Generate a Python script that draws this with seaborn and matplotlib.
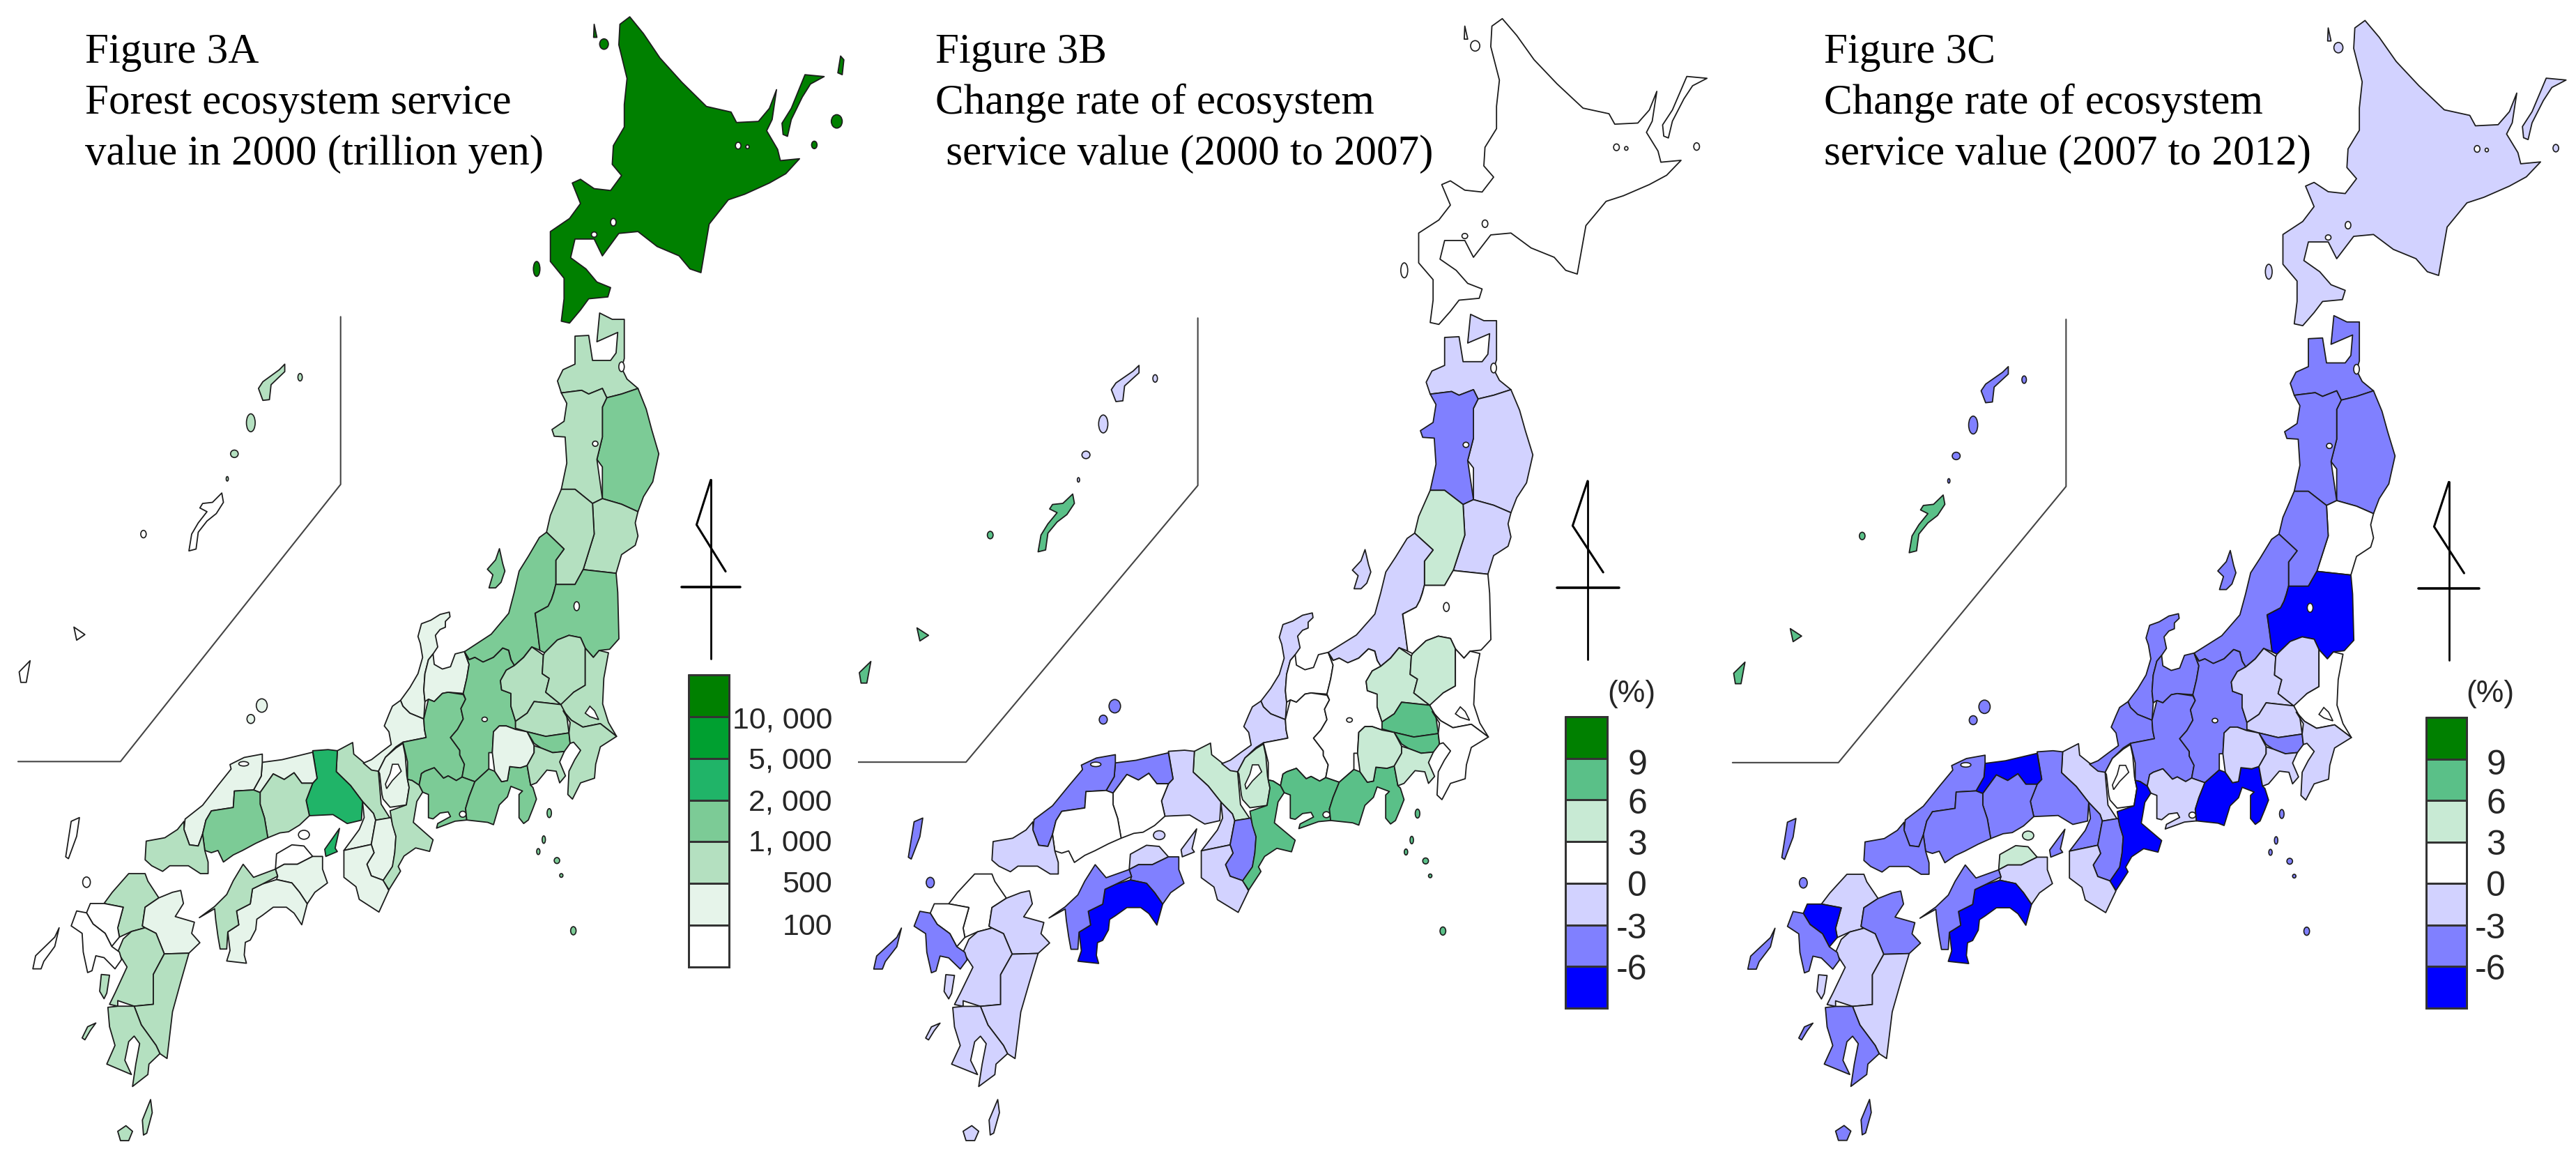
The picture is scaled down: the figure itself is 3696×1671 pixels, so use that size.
import numpy as np
import pandas as pd
import matplotlib
matplotlib.use("Agg")
import matplotlib.pyplot as plt
from matplotlib.colors import ListedColormap
from matplotlib.patches import Ellipse
import seaborn as sns

W, H = 3696, 1671
SCALE_U, SCALE_V = 1568 / 1232, 1568 / 840
V_OFFSET = 1549

# prefecture order for the class lists below
PREFS = ["Hokkaido", "Aomori", "Iwate", "Akita", "Miyagi", "Yamagata", "Fukushima", "Niigata",
         "Ibaraki", "Tochigi", "Gunma", "Saitama", "Tokyo", "Chiba", "Kanagawa", "Yamanashi",
         "Toyama", "Ishikawa", "Fukui", "Nagano", "Gifu", "Shizuoka", "Aichi", "Mie", "Shiga",
         "Kyoto", "Osaka", "Nara", "Wakayama", "Hyogo", "Tottori", "Shimane", "Okayama",
         "Hiroshima", "Yamaguchi", "Tokushima", "Kagawa", "Ehime", "Kochi", "Fukuoka", "Saga",
         "Nagasaki", "Kumamoto", "Oita", "Miyazaki", "Kagoshima", "Okinawa"]

CLASS_A = [6, 2, 3, 2, 2, 2, 3, 3, 2, 2, 2, 2, 3, 2, 2, 1, 1, 1, 1, 3, 3, 3, 3, 2, 1,
           2, 1, 1, 1, 4, 1, 1, 2, 3, 2, 1, 0, 2, 1, 2, 0, 0, 2, 1, 2, 2, 0]
CLASS_B = [3, 2, 2, 1, 2, 4, 3, 2, 3, 4, 4, 5, 5, 3, 4, 4, 3, 2, 2, 3, 3, 5, 5, 5, 4,
           4, 2, 1, 2, 2, 1, 1, 3, 3, 2, 1, 2, 1, 0, 3, 3, 1, 2, 2, 2, 2, 5]
CLASS_C = [2, 1, 1, 1, 3, 1, 0, 1, 3, 2, 2, 2, 1, 2, 2, 2, 1, 1, 1, 1, 1, 0, 2, 0, 3,
           2, 1, 1, 2, 1, 0, 1, 1, 1, 1, 2, 4, 1, 0, 2, 0, 1, 2, 1, 2, 1, 5]

COLORS_A = ["#ffffff", "#e6f4ea", "#b4e0c0", "#7ccb96", "#20b468", "#00a030", "#008000"]
COLORS_BC = ["#0000ff", "#8080ff", "#d2d2ff", "#ffffff", "#c8ead4", "#5ac088", "#008000"]

LABELS_A = ["10, 000", "5, 000", "2, 000", "1, 000", "500", "100"]
LABELS_BC = ["9", "6", "3", "0", "-3", "-6"]

TITLES = [["Figure 3A", "Forest ecosystem service", "value in 2000 (trillion yen)"],
          ["Figure 3B", "Change rate of ecosystem", " service value (2000 to 2007)"],
          ["Figure 3C", "Change rate of ecosystem", "service value (2007 to 2012)"]]

# shapes
NORTH = {
    "Hokkaido": [[(1150, 45), (1175, 90), (1205, 155), (1245, 220), (1290, 285), (1335, 300), (1345, 328), (1385, 325),
                  (1405, 290), (1418, 240), (1410, 320), (1400, 350), (1420, 400), (1425, 430), (1460, 425), (1435, 465),
                  (1405, 490), (1360, 520), (1330, 535), (1295, 600), (1280, 730), (1260, 720), (1240, 685), (1200, 660),
                  (1165, 620), (1130, 625), (1100, 685), (1085, 640), (1050, 640), (1042, 690), (1070, 720), (1090, 755),
                  (1115, 770), (1110, 795), (1075, 800), (1060, 830), (1040, 865), (1025, 860), (1030, 800), (1030, 745),
                  (1005, 700), (1005, 620), (1040, 585), (1060, 545), (1045, 490), (1060, 480), (1085, 505), (1115, 510),
                  (1135, 470), (1118, 440), (1120, 390), (1140, 340), (1140, 280), (1145, 210), (1130, 120), (1132, 65)],
                 [(1430, 360), (1428, 330), (1445, 290), (1470, 200), (1505, 205), (1480, 225), (1465, 260), (1445, 320), (1438, 365)],
                 [(1535, 150), (1541, 160), (1538, 200), (1530, 195)],
                 [(1085, 65), (1090, 100), (1084, 100)]],
    "Aomori": [[(1095, 838), (1118, 855), (1140, 855), (1140, 960), (1135, 985), (1145, 1015), (1165, 1040), (1135, 1055),
                (1108, 1065), (1100, 1040), (1075, 1055), (1062, 1045), (1025, 1052), (1018, 1020), (1028, 990), (1050, 975),
                (1050, 900), (1075, 898), (1082, 965), (1115, 965), (1125, 945), (1128, 890), (1090, 915)]],
    "Iwate": [[(1165, 1040), (1180, 1095), (1190, 1150), (1203, 1215), (1192, 1290), (1175, 1330), (1165, 1370), (1135, 1350),
               (1100, 1335), (1100, 1250), (1090, 1230), (1100, 1170), (1100, 1090), (1108, 1065), (1135, 1055)]],
    "Akita": [[(1025, 1052), (1062, 1045), (1075, 1055), (1100, 1040), (1108, 1065), (1100, 1090), (1100, 1170), (1090, 1230),
               (1100, 1335), (1082, 1348), (1050, 1310), (1025, 1310), (1035, 1240), (1032, 1170), (1012, 1168), (1008, 1150),
               (1030, 1128), (1035, 1080)]],
    "Miyagi": [[(1082, 1348), (1100, 1335), (1135, 1350), (1165, 1370), (1160, 1400), (1165, 1435), (1160, 1460), (1135, 1485),
                (1125, 1535), (1065, 1525), (1085, 1430)]],
    "Yamagata": [[(1025, 1310), (1050, 1310), (1082, 1348), (1085, 1430), (1065, 1525), (1050, 1565), (1015, 1565), (1015, 1500),
                  (1030, 1470), (998, 1425), (1005, 1380)]],
    "Kagoshima": [[(520, 975), (520, 995), (495, 1030), (492, 1070), (480, 1072), (472, 1040), (480, 1022), (510, 990)]],
    "Okinawa": [[(405, 1320), (408, 1345), (395, 1375), (378, 1395), (362, 1425), (358, 1470), (345, 1475), (350, 1430),
                 (362, 1400), (378, 1370), (365, 1360), (370, 1348), (388, 1345)]],
}

# shapes
SOUTH = {
    "Niigata": [[(998, -124), (1030, -79), (1015, -49), (1015, 16), (1011, 37), (1007, 56), (1001, 74), (977, 93), (982, 143),
                 (986, 192), (971, 183), (956, 211), (939, 233), (933, 217), (929, 192), (918, 186), (901, 211), (882, 224),
                 (867, 211), (857, 217), (848, 196), (897, 149), (929, 93), (939, 37), (948, -20), (965, -60), (985, -110)],
                [(912, -80), (918, -40), (922, -20), (915, 10), (905, 25), (893, 25), (900, -10), (890, -25), (905, -50)]],
    "Kyoto": [[(616, 461), (644, 439), (646, 470), (664, 492), (691, 516), (696, 604), (712, 641), (686, 647), (682, 629),
               (662, 597), (640, 554), (614, 517)]],
    "Osaka": [[(662, 597), (682, 629), (686, 647), (678, 712), (628, 728), (656, 672), (665, 640)]],
    "Nara": [[(686, 647), (714, 640), (723, 690), (721, 734), (717, 771), (700, 808), (678, 796), (670, 765), (683, 734),
              (678, 712)]],
    "Wakayama": [[(628, 728), (678, 712), (683, 734), (670, 765), (678, 796), (700, 808), (710, 835), (692, 893), (656, 859),
                  (650, 825), (628, 800)]],
    "Hyogo": [[(571, 461), (599, 458), (616, 461), (614, 517), (640, 554), (662, 597), (660, 647), (634, 656), (608, 632),
               (565, 635), (559, 594), (571, 548), (579, 535)],
              [(620, 669), (612, 722), (616, 731), (595, 744), (593, 725)]],
    "Tottori": [[(479, 492), (515, 485), (571, 465), (579, 535), (571, 548), (551, 548), (537, 520), (519, 538), (499, 523),
                 (475, 573), (463, 566), (477, 529)]],
    "Shimane": [[(420, 498), (446, 479), (479, 470), (479, 492), (477, 529), (463, 566), (428, 569), (426, 613), (386, 622),
                 (376, 647), (370, 684), (362, 716), (346, 713), (336, 672), (338, 644), (370, 607), (398, 554), (422, 510)]],
    "Okayama": [[(475, 573), (499, 523), (519, 538), (537, 520), (551, 548), (571, 548), (559, 594), (565, 635), (547, 660),
                 (527, 678), (511, 681), (489, 694), (483, 641), (475, 604)]],
    "Hiroshima": [[(386, 622), (426, 613), (428, 569), (463, 566), (475, 573), (475, 604), (483, 641), (489, 694), (467, 709),
                   (443, 728), (426, 740), (408, 759), (398, 728), (386, 734), (374, 728), (370, 684), (376, 647)]],
    "Yamaguchi": [[(267, 703), (301, 694), (324, 672), (336, 650), (336, 672), (346, 713), (362, 716), (370, 684), (374, 728),
                   (380, 759), (380, 790), (366, 790), (344, 769), (310, 769), (297, 784), (277, 769), (265, 753)]],
    "Kagawa": [[(505, 737), (533, 713), (555, 716), (571, 744), (543, 765), (519, 765), (503, 778)]],
    "Tokushima": [[(507, 797), (503, 778), (519, 765), (543, 765), (571, 744), (589, 744), (589, 778), (598, 815), (575, 840),
                   (561, 871), (547, 840), (533, 815), (505, 806)]],
    "Kochi": [[(505, 806), (533, 815), (547, 840), (561, 871), (551, 927), (537, 896), (523, 880), (499, 880), (479, 902),
               (469, 912), (467, 940), (457, 968), (448, 974), (446, 1008), (450, 1030), (414, 1024), (420, 996), (416, 946),
               (436, 927), (432, 890), (457, 871), (461, 831), (479, 818)]],
    "Ehime": [[(444, 765), (463, 800), (503, 778), (507, 797), (479, 818), (461, 831), (457, 871), (432, 890), (436, 927),
               (416, 946), (414, 992), (402, 992), (398, 958), (394, 915), (392, 884), (364, 908), (392, 878), (414, 846),
               (426, 809)]],
    "Fukuoka": [[(235, 790), (265, 790), (270, 810), (290, 855), (265, 880), (260, 930), (265, 935), (240, 945), (218, 960),
                 (215, 935), (225, 880), (190, 870), (205, 840)]],
    "Oita": [[(290, 855), (315, 840), (330, 835), (335, 870), (320, 905), (355, 920), (350, 950), (365, 975), (345, 1003),
              (300, 1005), (285, 950), (265, 935), (260, 930), (265, 880)]],
    "Kumamoto": [[(240, 945), (265, 935), (285, 950), (300, 1005), (280, 1060), (280, 1140), (245, 1145), (215, 1130), (215, 1145),
                  (200, 1140), (210, 1110), (232, 1040), (215, 1000), (225, 965)],
                 [(185, 1060), (200, 1062), (195, 1110), (190, 1125), (182, 1105)]],
    "Miyazaki": [[(300, 1005), (345, 1003), (330, 1080), (315, 1160), (305, 1285), (292, 1272), (285, 1250), (258, 1195),
                  (245, 1145), (280, 1140), (280, 1060)]],
    "Kagoshima": [[(197, 1148), (215, 1145), (245, 1145), (258, 1195), (285, 1250), (292, 1272), (272, 1300), (270, 1328),
                   (242, 1360), (248, 1300), (255, 1245), (245, 1225), (235, 1240), (228, 1290), (240, 1328), (195, 1300),
                   (210, 1250), (200, 1200)],
                  [(215, 1480), (230, 1465), (242, 1480), (235, 1505), (220, 1505)],
                  [(262, 1490), (260, 1450), (275, 1395), (278, 1430), (268, 1485)],
                  [(175, 1190), (165, 1210), (155, 1235), (150, 1230), (160, 1200)]],
    "Saga": [[(165, 870), (190, 870), (225, 880), (215, 935), (218, 960), (204, 985), (192, 950), (170, 925), (158, 895)]],
    "Nagasaki": [[(130, 930), (140, 890), (158, 895), (170, 925), (192, 950), (204, 985), (218, 1000), (222, 1020), (210, 1045),
                  (190, 1015), (175, 1010), (168, 1050), (160, 1055), (152, 1000), (150, 950)],
                 [(60, 1045), (65, 1010), (100, 960), (108, 935), (100, 985), (80, 1025), (75, 1045)],
                 [(120, 745), (130, 650), (145, 640), (140, 690), (125, 750)]],
    "Okinawa": [[(135, 130), (155, 150), (140, 165)],
                [(35, 250), (55, 220), (48, 278), (38, 278)]],
}

CENTRAL = {
    "Fukushima": [[(1011, -98), (1153, -82), (1160, 0), (1165, 200), (1125, 245), (1080, 250), (1055, 280), (1020, 240), (1000, 195),
                   (950, 185), (900, 205), (845, 260), (825, 250), (815, 170), (805, 90), (860, 60), (875, 30), (885, 0),
                   (893, -34), (976, -34)]],
    "Ishikawa": [[(395, 95), (435, 85), (438, 105), (418, 125), (418, 150), (395, 160), (375, 185), (385, 235), (365, 265),
                  (345, 290), (330, 350), (325, 420), (330, 470), (325, 545), (265, 520), (235, 490), (225, 465), (265, 410),
                  (300, 350), (320, 280), (310, 220), (300, 190), (315, 135), (355, 120)]],
    "Toyama": [[(365, 265), (370, 310), (405, 330), (440, 320), (460, 265), (500, 255), (520, 310), (510, 370), (495, 435),
                (430, 430), (405, 435), (370, 470), (345, 460), (330, 470), (325, 420), (330, 350), (345, 290)]],
    "Fukui": [[(225, 465), (235, 490), (265, 520), (325, 545), (328, 590), (335, 625), (235, 645), (205, 665), (160, 710),
               (130, 770), (100, 765), (65, 735), (100, 720), (145, 685), (185, 655), (175, 600), (155, 575), (175, 525), (190, 490)]],
    "Shiga": [[(205, 670), (235, 650), (245, 700), (252, 790), (262, 840), (250, 915), (180, 925), (150, 890), (145, 870),
               (135, 780), (130, 770), (160, 710)]],
    "Gifu": [[(235, 645), (335, 625), (328, 590), (325, 545), (345, 460), (370, 470), (405, 435), (430, 430), (495, 440), (505, 460),
              (485, 500), (495, 545), (470, 590), (440, 625), (480, 680), (480, 700), (500, 740), (490, 795), (465, 810), (430, 790),
              (410, 800), (370, 755), (330, 770), (315, 780), (305, 830), (275, 810), (255, 805), (255, 730)]],
    "Nagano": [[(500, 255), (520, 290), (545, 280), (580, 300), (625, 280), (665, 240), (690, 250), (700, 290), (715, 315), (680, 335),
                (655, 380), (660, 420), (700, 435), (700, 490), (720, 555), (720, 590), (680, 575), (650, 575), (625, 600), (620, 690),
                (605, 690), (605, 760), (545, 815), (490, 795), (500, 740), (480, 700), (480, 680), (440, 625), (470, 590), (495, 545),
                (485, 500), (505, 460), (495, 435), (510, 370), (520, 310)]],
    "Aichi": [[(315, 780), (330, 770), (370, 755), (410, 800), (430, 790), (465, 810), (490, 795), (545, 815), (520, 880), (505, 930),
               (510, 980), (460, 985), (380, 1015), (385, 995), (440, 965), (430, 945), (395, 950), (365, 975), (345, 970), (345, 870),
               (320, 860), (305, 830)]],
    "Shizuoka": [[(545, 815), (605, 760), (630, 770), (660, 815), (685, 810), (695, 750), (740, 755), (770, 745), (785, 830), (795, 840),
                  (810, 890), (795, 930), (775, 980), (755, 995), (735, 970), (735, 870), (750, 855), (700, 835), (685, 880), (650, 915),
                  (625, 1000), (600, 990), (510, 980), (505, 930), (520, 880)]],
    "Yamanashi": [[(625, 600), (650, 575), (680, 575), (720, 590), (770, 600), (800, 660), (800, 690), (770, 745), (740, 755), (695, 750),
                   (685, 810), (660, 815), (630, 770), (620, 690)]],
    "Gunma": [[(790, 235), (840, 270), (835, 350), (865, 370), (850, 430), (915, 483), (800, 470), (770, 520), (720, 555), (700, 490),
               (700, 435), (660, 420), (655, 380), (680, 335), (715, 315), (755, 280)]],
    "Tochigi": [[(845, 260), (900, 205), (950, 185), (1000, 195), (1020, 240), (1020, 320), (1020, 400), (970, 430), (925, 480), (915, 483),
                 (850, 430), (865, 370), (835, 350), (840, 270)]],
    "Ibaraki": [[(1020, 240), (1055, 280), (1080, 250), (1120, 260), (1100, 370), (1095, 480), (1120, 560), (1155, 620), (1085, 565),
                 (1010, 580), (960, 550), (925, 510), (915, 483), (970, 430), (1020, 400), (1020, 320)]],
    "Saitama": [[(800, 470), (915, 483), (940, 530), (950, 605), (850, 620), (770, 600), (720, 585), (720, 555), (770, 520)]],
    "Tokyo": [[(770, 600), (850, 620), (950, 605), (955, 650), (930, 685), (880, 690), (830, 670), (800, 650)]],
    "Kanagawa": [[(800, 660), (830, 670), (880, 690), (930, 685), (910, 730), (935, 790), (910, 820), (895, 770), (855, 765), (810, 820),
                  (785, 830), (770, 745), (800, 690)]],
    "Chiba": [[(925, 510), (960, 550), (1010, 580), (1085, 565), (1155, 620), (1085, 665), (1065, 740), (1060, 800), (1000, 820), (965, 890),
               (945, 870), (950, 770), (975, 720), (1000, 680), (970, 645), (955, 650), (950, 605), (955, 560)]],
    "Mie": [[(255, 805), (275, 810), (305, 830), (320, 860), (295, 900), (280, 990), (365, 1065), (350, 1115), (290, 1100), (240, 1135),
             (215, 1180), (225, 1200), (175, 1280), (150, 1240), (190, 1180), (200, 1120), (205, 1050), (190, 1000), (180, 940), (250, 915),
             (262, 840)]],
}

# white water drawn over the land, same frame as CENTRAL
WATER_CENTRAL = [[(190, 740), (215, 740), (228, 770), (190, 810), (165, 845), (160, 825), (180, 780)],
                 [(1040, 490), (1060, 510), (1078, 548), (1040, 535), (1020, 520)]]

# tiny islands: prefecture, u, v (north crop frame), radius u, radius v
ISLANDS = [("Hokkaido", 1103, 118, 8, 14), ("Hokkaido", 1528, 325, 10, 18), ("Hokkaido", 1487, 388, 5, 10), ("Hokkaido", 980, 720, 6, 20),
           ("Kagoshima", 548, 1010, 4, 10), ("Kagoshima", 458, 1132, 8, 24), ("Kagoshima", 428, 1215, 7, 10),
           ("Kagoshima", 415, 1282, 2, 6), ("Okinawa", 262, 1430, 5, 10), ("Shimane", 478, 1889, 10, 18), ("Shimane", 458, 1925, 7, 12),
           ("Nagasaki", 158, 2362, 7, 14), ("Kagawa", 555, 2235, 10, 12), ("Tokyo", 1003, 2177, 4, 12), ("Tokyo", 993, 2248, 3, 10),
           ("Tokyo", 983, 2280, 3, 8), ("Tokyo", 1017, 2304, 5, 8), ("Tokyo", 1025, 2344, 3, 5), ("Tokyo", 1047, 2492, 5, 11)]

# lakes stay white
LAKES = [(1120, 595, 5, 10), (1085, 628, 5, 7), (1348, 390, 5, 9), (1365, 393, 3, 5), (1135, 982, 5, 13), (1087, 1188, 5, 7),
         (1053, 1623, 5, 12), (885, 1926, 5, 6), (845, 2180, 6, 8), (445, 2045, 9, 6)]

INSET_U = [622, 622, 220, 33]
INSET_V = [848, 1297, 2039, 2039]
ARROW_U = [1298, 1272, 1325]
ARROW_V = [1285, 1405, 1530]
POLE_U = [1298, 1298]
POLE_V = [1285, 1764]
BAR_U = [1245, 1352]
BAR_V = [1571, 1571]

# panel map: x_px = ox + sx * u / SCALE_U, y_px = (vs * v + vo) / SCALE_V
PANELS = [dict(ox=0, sx=1.0, vs=1.0, vo=0, umin=20, umax=1545),
          dict(ox=1204, sx=1.053, vs=0.9983, vo=5, umin=33, umax=1506),
          dict(ox=2459, sx=1.034, vs=0.9965, vo=10, umin=20, umax=1508)]

LEGEND_BOXES = [(988, 968, 58, 419), (2246, 1028, 60, 418), (3481, 1029, 58, 417)]


def from_central(pts):
    return [(636 + 0.4242 * u, 37 + 0.622 * v + V_OFFSET) for u, v in pts]


def from_south(pts):
    return [(u, v + V_OFFSET) for u, v in pts]


def all_shapes():
    rows = []
    for name, parts in NORTH.items():
        rows += [(name, p) for p in parts]
    for name, parts in SOUTH.items():
        rows += [(name, from_south(p)) for p in parts]
    for name, parts in CENTRAL.items():
        rows += [(name, from_central(p)) for p in parts]
    return rows


def draw_panel(fig, panel, classes, colors):
    left = panel["ox"] + panel["sx"] * panel["umin"] / SCALE_U
    right = panel["ox"] + panel["sx"] * panel["umax"] / SCALE_U
    v_max = (H * SCALE_V - panel["vo"]) / panel["vs"]
    v_min = -panel["vo"] / panel["vs"]
    ax = fig.add_axes([left / W, 0, (right - left) / W, 1])
    ax.set_xlim(panel["umin"], panel["umax"])
    ax.set_ylim(v_max, v_min)
    ax.axis("off")
    ax.patch.set_alpha(0)

    lookup = dict(zip(PREFS, classes))
    edge = "#1c1c1c"
    for name, pts in all_shapes():
        us, vs = zip(*pts)
        ax.fill(us, vs, facecolor=colors[lookup[name]], edgecolor=edge, linewidth=1.3, joinstyle="round")
    for name, u, v, ru, rv in ISLANDS:
        ax.add_patch(Ellipse((u, v), 2 * ru, 2 * rv, facecolor=colors[lookup[name]], edgecolor=edge, linewidth=1.2))
    for u, v, ru, rv in LAKES:
        ax.add_patch(Ellipse((u, v), 2 * ru, 2 * rv, facecolor="white", edgecolor=edge, linewidth=1.2))
    for pts in WATER_CENTRAL:
        us, vs = zip(*from_central(pts))
        ax.fill(us, vs, facecolor="white", edgecolor=edge, linewidth=1.2)

    frame = pd.DataFrame({"u": INSET_U, "v": INSET_V})
    sns.lineplot(data=frame, x="u", y="v", sort=False, estimator=None, color="#444444", linewidth=1.5, ax=ax)
    for us, vs, lw in [(ARROW_U, ARROW_V, 2.2), (POLE_U, POLE_V, 2.0), (BAR_U, BAR_V, 2.6)]:
        sns.lineplot(x=us, y=vs, sort=False, estimator=None, color="black", linewidth=lw, ax=ax)
    ax.set_xlabel("")
    ax.set_ylabel("")
    return ax


def draw_legend(fig, box, colors):
    x, y, w, h = box
    ax = fig.add_axes([x / W, 1 - (y + h) / H, w / W, h / H])
    steps = np.arange(6, -1, -1).reshape(-1, 1)
    sns.heatmap(steps, cmap=ListedColormap(colors), vmin=-0.5, vmax=6.5, cbar=False, linewidths=1.8,
                linecolor="#333333", clip_on=False, xticklabels=False, yticklabels=False, ax=ax)
    for side in ax.spines.values():
        side.set_visible(True)
        side.set_color("#333333")
        side.set_linewidth(1.8)


def put_text(fig, x, y, s, **kw):
    fig.text(x / W, 1 - y / H, s, **kw)


def main():
    sns.set_theme(style="white")
    plt.rcParams["font.family"] = ["Liberation Serif", "DejaVu Serif"]
    fig = plt.figure(figsize=(W / 100, H / 100), dpi=100, facecolor="white")

    draw_panel(fig, PANELS[0], CLASS_A, COLORS_A)
    draw_panel(fig, PANELS[1], CLASS_B, COLORS_BC)
    draw_panel(fig, PANELS[2], CLASS_C, COLORS_BC)

    draw_legend(fig, LEGEND_BOXES[0], COLORS_A)
    draw_legend(fig, LEGEND_BOXES[1], COLORS_BC)
    draw_legend(fig, LEGEND_BOXES[2], COLORS_BC)

    # titles
    for x0, lines in zip([122, 1342, 2617], TITLES):
        for y0, line in zip([90, 163, 236], lines):
            put_text(fig, x0, y0, line, fontsize=44, color="black", ha="left", va="baseline")

    # legend labels, no narrow face installed so a smaller sans has to do
    sans = ["Liberation Sans", "DejaVu Sans"]
    ys = [1028, 1087, 1146, 1205, 1264, 1325]
    for y0, lab in zip(ys, LABELS_A):
        put_text(fig, 1194, y0 + 16, lab, fontsize=31, family=sans, ha="right", va="baseline")
    ys = [1093, 1149, 1208, 1267, 1328, 1387]
    for x0, xp in [(2363, 2341), (3595, 3573)]:
        for y0, lab in zip(ys, LABELS_BC):
            put_text(fig, x0, y0 + 18, lab, fontsize=36, family=sans, ha="right", va="baseline")
        put_text(fig, xp, 996, "(%)", fontsize=32, family=sans, ha="center", va="center")

    fig.savefig("out.png", dpi=100, facecolor="white")


if __name__ == "__main__":
    main()
